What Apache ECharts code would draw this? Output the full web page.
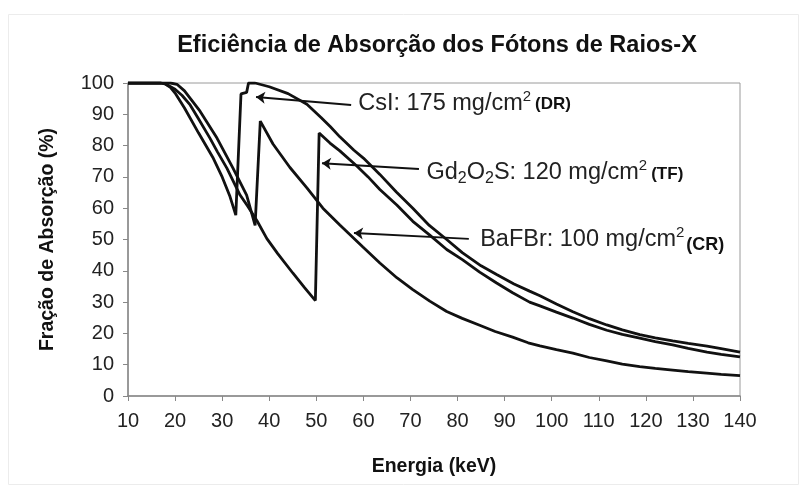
<!DOCTYPE html>
<html>
<head>
<meta charset="utf-8">
<script src="https://cdn.jsdelivr.net/npm/echarts@6/dist/echarts.min.js"></script>
<style>
  html, body { margin: 0; padding: 0; background: #fff; }
  #chart { width: 800px; height: 487px; }
</style>
</head>
<body>
<div id="chart"></div>
<script>
// Axis ticks
const energyTicks = [10, 20, 30, 40, 50, 60, 70, 80, 90, 100, 110, 120, 130, 140];
const fractionTicks = [0, 10, 20, 30, 40, 50, 60, 70, 80, 90, 100];

// CsI 175 mg/cm2 (DR)
const csiEnergy = [10, 15, 17, 18, 19, 20, 22, 25, 28, 30, 31.6, 32.9, 34.0, 35.2, 35.6, 37, 40, 44, 48, 51,
  53, 55, 58, 60, 63.5, 67, 70.5, 74, 77.7, 81, 85, 88.3, 92, 95.3, 97.5, 101, 104.5, 108, 111.7, 115,
  118.7, 122, 125.7, 129, 133, 136, 140];
const csiFraction = [100, 100, 100, 99.6, 98.6, 96.8, 92, 84, 76.3, 70, 64, 57.8, 96.5, 97, 100, 100, 98.8, 96.6, 93.2, 89,
  86, 82.8, 78.5, 76, 70.8, 65.2, 60, 54.5, 50, 45.8, 41.6, 38.8, 35.8, 33.5, 32, 29.4, 26.9, 24.7, 22.7, 21.1,
  19.6, 18.6, 17.6, 16.8, 15.9, 15.1, 14];

// Gd2O2S 120 mg/cm2 (TF)
const gdEnergy = [10, 17, 18, 20, 21.5, 23.2, 25, 27.4, 29, 31, 33.8, 35.5, 37.4, 39.5, 41.8, 45, 47.5, 49.8, 50.6, 52.9,
  55, 58.6, 61, 63.5, 67.1, 70.5, 74.1, 77.7, 81.1, 84.7, 88.3, 91.7, 95.3, 97.5, 101, 104.5, 108, 111.7, 115, 118.7,
  122, 125.7, 129, 133, 136, 140];
const gdFraction = [100, 100, 99.7, 98, 96, 93, 88.5, 82.4, 78, 72.8, 64.2, 60.5, 56, 50.3, 45.5, 39.3, 34.6, 30.5, 84, 80.8,
  78.3, 73.5, 70, 66, 61, 55.8, 51.4, 46.8, 43.5, 39.6, 36.1, 33, 30, 28.8, 26.8, 24.9, 22.9, 21, 19.7, 18.5,
  17.4, 16.3, 15.2, 14, 13.3, 12.5];

// BaFBr 100 mg/cm2 (CR)
const bafbrEnergy = [10, 19, 20.4, 22, 25.3, 28.9, 32.3, 35.2, 37, 38.1, 40.8, 44.4, 48, 51.4, 55, 59.9, 63.5, 67.1, 70.5, 74.1,
  77.7, 81, 84.7, 88, 91.7, 95, 97.5, 101, 104.5, 108, 111.7, 115, 118.7, 122, 125.7, 129, 132.9, 136, 140];
const bafbrFraction = [100, 100, 99.6, 97.5, 91, 82.4, 72.8, 64.2, 54.5, 87.8, 80.5, 73, 66.5, 60, 54.6, 47.6, 42.5, 37.8, 34, 30.3,
  27, 24.8, 22.6, 20.6, 18.8, 17, 16, 14.8, 13.7, 12.3, 11.2, 10.2, 9.4, 8.8, 8.3, 7.8, 7.3, 6.9, 6.5];

const zip = (xs, ys) => xs.map((x, i) => [x, ys[i]]);

const FONT = '"Liberation Sans", Arial, Helvetica, sans-serif';
const INK = '#111';

// Callout labels (rich text) and their leader arrows, in data coordinates
const richStyles = {
  t:   { fontFamily: FONT, fontSize: 23.5, color: '#222', lineHeight: 28 },
  sup: { fontFamily: FONT, fontSize: 15, color: '#222', lineHeight: 14, verticalAlign: 'top' },
  sub: { fontFamily: FONT, fontSize: 16, color: '#222', lineHeight: 8, verticalAlign: 'bottom' },
  b:   { fontFamily: FONT, fontSize: 17, fontWeight: 'bold', color: '#111', lineHeight: 26, verticalAlign: 'middle', padding: [3, 0, 0, 4] },
  b2:  { fontFamily: FONT, fontSize: 18, fontWeight: 'bold', color: '#111', lineHeight: 24, verticalAlign: 'bottom', padding: [0, 0, 0, 2] }
};

function callout(textAt, from, to, formatter) {
  return {
    markPoint: {
      silent: true,
      symbol: 'circle',
      symbolSize: 0,
      animation: false,
      data: [{
        coord: textAt,
        label: { show: true, position: 'right', distance: 0, formatter: formatter, rich: richStyles }
      }]
    },
    markLine: {
      silent: true,
      animation: false,
      symbol: ['none', 'arrow'],
      symbolSize: 9,
      label: { show: false },
      lineStyle: { color: INK, width: 2, type: 'solid' },
      itemStyle: { color: INK },
      emphasis: { disabled: true },
      data: [[{ coord: from }, { coord: to }]]
    }
  };
}

function curve(name, xs, ys, extra) {
  return Object.assign({
    name: name,
    type: 'line',
    data: zip(xs, ys),
    showSymbol: false,
    symbol: 'none',
    smooth: false,
    color: INK,
    lineStyle: { color: INK, width: 2.8 },
    emphasis: { disabled: true },
    animation: false
  }, extra);
}

const chart = echarts.init(document.getElementById('chart'), null, { renderer: 'canvas' });

chart.setOption({
  backgroundColor: '#fff',
  animation: false,
  title: {
    text: 'Eficiência de Absorção dos Fótons de Raios-X',
    left: 432,
    textAlign: 'center',
    top: 29,
    textStyle: { fontFamily: FONT, fontSize: 23.5, fontWeight: 'bold', color: '#111' }
  },
  graphic: [{
    type: 'rect',
    shape: { x: 8.5, y: 14.5, width: 790, height: 470 },
    style: { fill: 'none', stroke: '#ececec', lineWidth: 1 },
    silent: true
  }],
  grid: {
    left: 128, right: 60, top: 83, bottom: 91,
    show: true, borderColor: '#9a9a9a', borderWidth: 1
  },
  xAxis: {
    type: 'value',
    min: energyTicks[0],
    max: energyTicks[energyTicks.length - 1],
    interval: energyTicks[1] - energyTicks[0],
    name: 'Energia (keV)',
    nameLocation: 'middle',
    nameGap: 61,
    nameTextStyle: { fontFamily: FONT, fontSize: 19.5, fontWeight: 'bold', color: '#111' },
    axisLine: { show: true, lineStyle: { color: '#888', width: 1.5 } },
    axisTick: { show: true, inside: false, length: 5, lineStyle: { color: '#888', width: 1 } },
    axisLabel: { fontFamily: FONT, fontSize: 20, color: '#222', margin: 15 },
    splitLine: { show: false }
  },
  yAxis: {
    type: 'value',
    min: fractionTicks[0],
    max: fractionTicks[fractionTicks.length - 1],
    interval: fractionTicks[1] - fractionTicks[0],
    name: 'Fração de Absorção (%)',
    nameLocation: 'middle',
    nameGap: 70,
    nameRotate: 90,
    nameTextStyle: { fontFamily: FONT, fontSize: 19.5, fontWeight: 'bold', color: '#111' },
    axisLine: { show: true, lineStyle: { color: '#888', width: 1.5 } },
    axisTick: { show: true, inside: false, length: 5, lineStyle: { color: '#888', width: 1 } },
    axisLabel: { fontFamily: FONT, fontSize: 20, color: '#222', margin: 14 },
    splitLine: { show: false }
  },
  series: [
    curve('CsI', csiEnergy, csiFraction,
      callout([58.9, 93.6], [57.4, 93.0], [37.2, 95.5], '{t|CsI: 175 mg/cm}{sup|2}{b|(DR)}')),
    curve('Gd2O2S', gdEnergy, gdFraction,
      callout([73.4, 71.4], [71.8, 72.5], [51.2, 74.4], '{t|Gd}{sub|2}{t|O}{sub|2}{t|S: 120 mg/cm}{sup|2}{b|(TF)}')),
    curve('BaFBr', bafbrEnergy, bafbrFraction,
      callout([84.8, 49.9], [82.4, 50.2], [58.0, 52.1], '{t|BaFBr: 100 mg/cm}{sup|2}{b2|(CR)}'))
  ]
});
</script>
</body>
</html>
